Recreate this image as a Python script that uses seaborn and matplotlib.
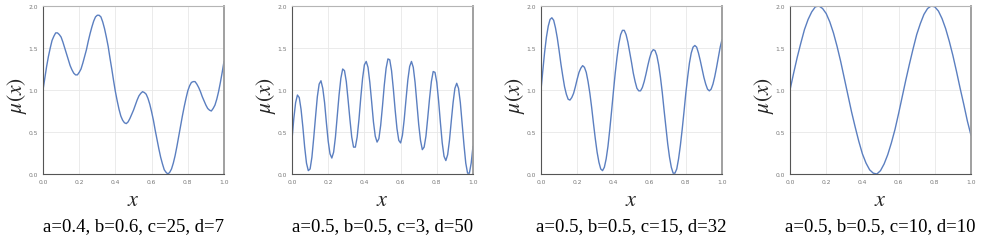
# mu(x) curves for four parameter settings

import numpy as np
import matplotlib.pyplot as plt
import seaborn as sns


# DATA

x_fine = np.round(np.arange(0, 101) * 0.01, 2)
x_coarse = np.round(np.arange(0, 51) * 0.02, 2)

mu_1 = [
    1.00, 1.14, 1.28, 1.40, 1.50, 1.59, 1.64, 1.68, 1.68, 1.66,
    1.63, 1.57, 1.50, 1.43, 1.36, 1.29, 1.24, 1.20, 1.18, 1.18,
    1.21, 1.25, 1.32, 1.40, 1.48, 1.58, 1.67, 1.75, 1.82, 1.87,
    1.89, 1.89, 1.87, 1.81, 1.73, 1.63, 1.52, 1.38, 1.25, 1.11,
    0.98, 0.87, 0.77, 0.69, 0.64, 0.61, 0.60, 0.62, 0.66, 0.71,
    0.76, 0.82, 0.88, 0.93, 0.96, 0.98, 0.97, 0.95, 0.90, 0.83,
    0.74, 0.64, 0.52, 0.41, 0.30, 0.20, 0.12, 0.05, 0.02, 0.00,
    0.02, 0.06, 0.13, 0.22, 0.33, 0.45, 0.57, 0.69, 0.80, 0.90,
    0.99, 1.05, 1.09, 1.10, 1.10, 1.07, 1.03, 0.98, 0.92, 0.87,
    0.82, 0.78, 0.76, 0.75, 0.78, 0.82, 0.89, 0.98, 1.09, 1.21,
    1.34,
]

mu_2 = [
    0.41, 0.66, 0.85, 0.94, 0.91, 0.77, 0.56, 0.32, 0.13, 0.04,
    0.06, 0.20, 0.43, 0.68, 0.92, 1.07, 1.11, 1.02, 0.85, 0.61,
    0.39, 0.24, 0.19, 0.26, 0.44, 0.69, 0.94, 1.14, 1.25, 1.23,
    1.10, 0.88, 0.65, 0.44, 0.32, 0.32, 0.44, 0.65, 0.91, 1.14,
    1.30, 1.34, 1.27, 1.09, 0.86, 0.62, 0.45, 0.38, 0.42, 0.58,
    0.81, 1.06, 1.26, 1.37, 1.36, 1.23, 1.01, 0.76, 0.54, 0.40,
    0.37, 0.46, 0.65, 0.89, 1.12, 1.28, 1.34, 1.27, 1.09, 0.84,
    0.59, 0.40, 0.29, 0.32, 0.45, 0.67, 0.90, 1.10, 1.22, 1.21,
    1.09, 0.87, 0.61, 0.37, 0.21, 0.16, 0.23, 0.40, 0.63, 0.85,
    1.02, 1.08, 1.02, 0.85, 0.60, 0.35, 0.13, 0.01, 0.01, 0.13,
    0.33,
]

mu_3 = [
    1.00, 1.23, 1.45, 1.63, 1.76, 1.84, 1.86, 1.83, 1.74, 1.62,
    1.47, 1.31, 1.17, 1.04, 0.95, 0.89, 0.88, 0.91, 0.96, 1.04,
    1.13, 1.21, 1.26, 1.29, 1.27, 1.21, 1.10, 0.96, 0.79, 0.60,
    0.42, 0.26, 0.14, 0.06, 0.04, 0.08, 0.18, 0.33, 0.53, 0.75,
    0.98, 1.20, 1.39, 1.55, 1.66, 1.71, 1.71, 1.66, 1.57, 1.45,
    1.33, 1.20, 1.10, 1.02, 0.99, 0.99, 1.03, 1.10, 1.19, 1.29,
    1.38, 1.45, 1.48, 1.47, 1.41, 1.30, 1.15, 0.97, 0.76, 0.56,
    0.36, 0.20, 0.08, 0.01, 0.01, 0.06, 0.18, 0.34, 0.53, 0.74,
    0.96, 1.15, 1.32, 1.44, 1.51, 1.53, 1.51, 1.44, 1.35, 1.25,
    1.15, 1.07, 1.01, 0.99, 1.01, 1.07, 1.16, 1.27, 1.39, 1.51,
    1.60,
]

mu_4 = [
    1.00, 1.20, 1.39, 1.56, 1.72, 1.84, 1.93, 1.99, 2.00, 1.97,
    1.91, 1.81, 1.68, 1.52, 1.34, 1.14, 0.94, 0.74, 0.56, 0.39,
    0.24, 0.13, 0.05, 0.01, 0.00, 0.04, 0.12, 0.23, 0.37, 0.53,
    0.72, 0.92, 1.12, 1.31, 1.49, 1.66, 1.79, 1.90, 1.97, 2.00,
    1.99, 1.94, 1.85, 1.73, 1.58, 1.41, 1.22, 1.02, 0.83, 0.63,
    0.46,
]

captions = [
    "a=0.4, b=0.6, c=25, d=7",
    "a=0.5, b=0.5, c=3, d=50",
    "a=0.5, b=0.5, c=15, d=32",
    "a=0.5, b=0.5, c=10, d=10",
]

x_ticks = [0.0, 0.2, 0.4, 0.6, 0.8, 1.0]
y_ticks = [0.0, 0.5, 1.0, 1.5, 2.0]


# STYLE

sns.set_theme(style="whitegrid")
plt.rcParams["mathtext.fontset"] = "stix"


# FIGURE

fig = plt.figure(figsize=(9.97, 2.51), dpi=100)

panels = [
    (x_fine, mu_1),
    (x_fine, mu_2),
    (x_fine, mu_3),
    (x_coarse, mu_4),
]

lefts = [43, 292, 541, 790]

for i, (xs, ys) in enumerate(panels):

    ax = fig.add_axes([lefts[i] / 997, 76 / 251, 181 / 997, 168 / 251])

    sns.lineplot(
        x=xs,
        y=ys,
        ax=ax,
        color="#5b7fc0",
        linewidth=1.0
    )

    ax.set_xlim(0, 1)
    ax.set_ylim(0, 2)
    ax.set_xticks(x_ticks)
    ax.set_yticks(y_ticks)

    ax.tick_params(
        labelsize=4.3,
        colors="#777777",
        length=0,
        pad=3.5
    )

    ax.grid(color="#e8e8e8", linewidth=0.6)

    # left/bottom dark, right medium, top light
    ax.spines["left"].set_color("#555555")
    ax.spines["bottom"].set_color("#555555")
    ax.spines["right"].set_color("#999999")
    ax.spines["top"].set_color("#b5b5b5")
    ax.spines["left"].set_linewidth(0.8)
    ax.spines["bottom"].set_linewidth(0.8)
    ax.spines["right"].set_linewidth(1.3)
    ax.spines["top"].set_linewidth(0.8)

    ax.set_xlabel(r"$x$", fontsize=16)
    ax.xaxis.label.set_va("center")
    ax.xaxis.set_label_coords(0.5, -0.15)

    ax.set_ylabel(r"$\mu(x)$", fontsize=15.5)
    ax.yaxis.label.set_va("center")
    ax.yaxis.set_label_coords(-0.145, 0.47)

    ax.text(
        0.5,
        -0.305,
        captions[i],
        transform=ax.transAxes,
        ha="center",
        va="center",
        fontsize=13.5,
        family="Liberation Serif",
        color="black"
    )

plt.savefig("out.png", dpi=100)
